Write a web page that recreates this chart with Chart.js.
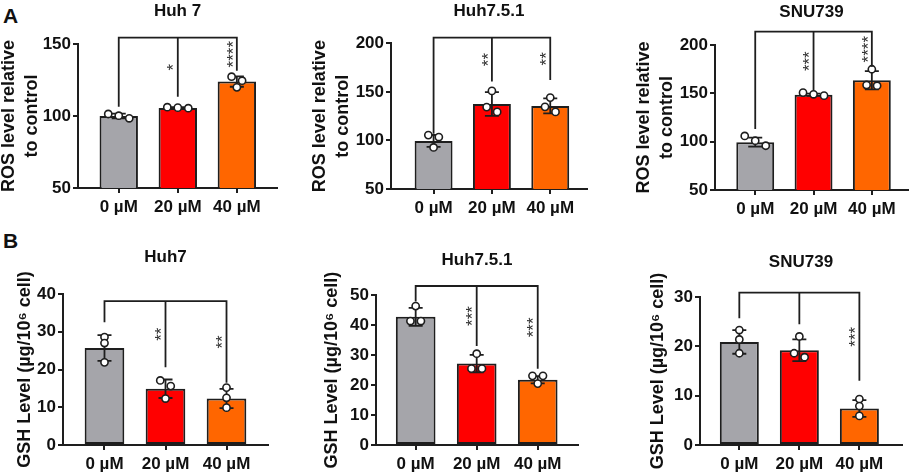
<!DOCTYPE html>
<html>
<head>
<meta charset="utf-8">
<script src="https://cdn.jsdelivr.net/npm/chart.js@4.4.1/dist/chart.umd.min.js"></script>
<style>
body{margin:0;width:913px;height:476px;position:relative;overflow:hidden;background:#fff}
canvas{position:absolute}
.lbl{position:absolute;font:bold 21px "Liberation Sans",Arial,sans-serif;line-height:21px;color:#111}
</style>
</head>
<body>
<div class="lbl" style="left:3px;top:5px">A</div>
<div class="lbl" style="left:3px;top:230px">B</div>
<canvas id="c0"></canvas><canvas id="c1"></canvas><canvas id="c2"></canvas>
<canvas id="c3"></canvas><canvas id="c4"></canvas><canvas id="c5"></canvas>
<script>
const doses = ["0 µM", "20 µM", "40 µM"]
const barColors = ["#a5a5aa", "#ff0000", "#ff6600"]
const rosTitle = ["ROS level relative", "to control"]
const gshTitle = "GSH Level (µg/10⁶ cell)"

// A - ROS
const rosHuh7 = [100, 105.6, 123.9]
const rosHuh7Sd = [1.7, 0.5, 3.6]
const rosHuh7Pts = [[98.4, 101.4, 100.2], [105.8, 106.1, 105.4], [127.3, 124.5, 119.9]]
const rosHuh7Ticks = [50, 100, 150]
const rosHuh7Bracket = 154.4
const rosHuh7Drop = [106.5, 113.4, 131.5]
const rosHuh7Stars = ["", "*", "****"]

const rosHuh751 = [99.5, 137.5, 135.5]
const rosHuh751Sd = [6.1, 12.2, 7.7]
const rosHuh751Pts = [[105.5, 103.5, 92.8], [151, 134.3, 129.4], [144.1, 134.6, 129.4]]
const rosHuh751Ticks = [50, 100, 150, 200]
const rosHuh751Bracket = 205.8
const rosHuh751Drop = [107, 160.6, 162.3]
const rosHuh751Stars = ["", "**", "**"]

const rosSnu = [99.5, 148.5, 163.5]
const rosSnuSd = [4.7, 1.2, 9.4]
const rosSnuPts = [[105.9, 101, 95.8], [147.6, 150.7, 149], [174.9, 157.9, 158.6]]
const rosSnuTicks = [50, 100, 150, 200]
const rosSnuBracket = 213.8
const rosSnuDrop = [113, 152.7, 177.6]
const rosSnuStars = ["", "***", "****"]

// B - GSH
const gshHuh7 = [25.7, 14.9, 12.3]
const gshHuh7Sd = [3.4, 2.45, 2.55]
const gshHuh7Pts = [[28.6, 27.0, 21.9], [17.1, 15.6, 12.3], [15.2, 12.5, 9.9]]
const gshHuh7Ticks = [0, 10, 20, 30, 40]
const gshHuh7Bracket = 38.1
const gshHuh7Drop = [32.5, 20.6, 16.5]
const gshHuh7Stars = ["", "**", "**"]

const gshHuh751 = [42.8, 27.2, 21.8]
const gshHuh751Sd = [3, 2.9, 1.2]
const gshHuh751Pts = [[46.4, 41.4, 41.4], [30.5, 25.5, 25.5], [23.1, 23.1, 20.5]]
const gshHuh751Ticks = [0, 10, 20, 30, 40, 50]
const gshHuh751Bracket = 53.1
const gshHuh751Drop = [47.9, 33.1, 25.5]
const gshHuh751Stars = ["", "***", "***"]

const gshSnu = [20.9, 19.2, 7.4]
const gshSnuSd = [2.4, 2.2, 1.7]
const gshSnuPts = [[23.3, 21.4, 18.6], [22, 17.8, 18.6], [9.3, 7.9, 5.9]]
const gshSnuTicks = [0, 10, 20, 30]
const gshSnuBracket = 30.9
const gshSnuDrop = [25.7, 24.5, 13]
const gshSnuStars = ["", "", "***"]

const panels = [
  {title: "Huh 7", ytitle: rosTitle, mean: rosHuh7, sd: rosHuh7Sd, pts: rosHuh7Pts, ticks: rosHuh7Ticks, bracket: rosHuh7Bracket, drop: rosHuh7Drop, stars: rosHuh7Stars},
  {title: "Huh7.5.1", ytitle: rosTitle, mean: rosHuh751, sd: rosHuh751Sd, pts: rosHuh751Pts, ticks: rosHuh751Ticks, bracket: rosHuh751Bracket, drop: rosHuh751Drop, stars: rosHuh751Stars},
  {title: "SNU739", ytitle: rosTitle, mean: rosSnu, sd: rosSnuSd, pts: rosSnuPts, ticks: rosSnuTicks, bracket: rosSnuBracket, drop: rosSnuDrop, stars: rosSnuStars},
  {title: "Huh7", ytitle: gshTitle, mean: gshHuh7, sd: gshHuh7Sd, pts: gshHuh7Pts, ticks: gshHuh7Ticks, bracket: gshHuh7Bracket, drop: gshHuh7Drop, stars: gshHuh7Stars},
  {title: "Huh7.5.1", ytitle: gshTitle, mean: gshHuh751, sd: gshHuh751Sd, pts: gshHuh751Pts, ticks: gshHuh751Ticks, bracket: gshHuh751Bracket, drop: gshHuh751Drop, stars: gshHuh751Stars},
  {title: "SNU739", ytitle: gshTitle, mean: gshSnu, sd: gshSnuSd, pts: gshSnuPts, ticks: gshSnuTicks, bracket: gshSnuBracket, drop: gshSnuDrop, stars: gshSnuStars}
]

// where each plot sits on the page (canvas left/top, plot area edges, title centre)
const boxes = [
  {left: -2, top: 0, L: 78, R: 277, T: 44, B: 188, ty: 11, xmin: -0.69, xmax: 2.68},
  {left: 309, top: 0, L: 391, R: 587, T: 43.3, B: 189.3, ty: 11, xmin: -0.73, xmax: 2.63},
  {left: 633, top: 0, L: 715, R: 908, T: 45, B: 190, ty: 12.5, xmin: -0.69, xmax: 2.62},
  {left: 14, top: 238, L: 63, R: 268, T: 294, B: 445, ty: 257.5, xmin: -0.68, xmax: 2.68},
  {left: 321, top: 238, L: 376, R: 578, T: 295.3, B: 445.3, ty: 260, xmin: -0.65, xmax: 2.66},
  {left: 647, top: 238, L: 700, R: 902, T: 297, B: 445, ty: 262, xmin: -0.655, xmax: 2.71}
]

const FONT = '"Liberation Sans", Arial, sans-serif'
const INK = "#1e1e1e"
Chart.defaults.font.family = FONT
Chart.defaults.color = "#111"

function extras(p){
  return {id: "extras", afterDatasetsDraw(chart){
    const ctx = chart.ctx, x = chart.scales.x, y = chart.scales.y
    ctx.save()
    ctx.strokeStyle = INK
    ctx.lineWidth = 1.8
    // error bars
    p.mean.forEach((m, i) => {
      const cx = x.getPixelForValue(i), t = y.getPixelForValue(m + p.sd[i]), b = y.getPixelForValue(m - p.sd[i])
      ctx.beginPath()
      ctx.moveTo(cx, t); ctx.lineTo(cx, b)
      ctx.moveTo(cx - 7, t); ctx.lineTo(cx + 7, t)
      ctx.moveTo(cx - 7, b); ctx.lineTo(cx + 7, b)
      ctx.stroke()
    })
    // replicate points, spread sideways when they overlap
    p.pts.forEach((g, i) => {
      const cx = x.getPixelForValue(i)
      const ys = g.map(v => y.getPixelForValue(v))
      const order = ys.map((v, k) => k).sort((a, b) => ys[a] - ys[b])
      const groups = [[order[0]]]
      for (let k = 1; k < order.length; k++) {
        if (ys[order[k]] - ys[order[k - 1]] < 6) groups[groups.length - 1].push(order[k])
        else groups.push([order[k]])
      }
      groups.forEach(gr => gr.forEach((k, j) => {
        const px = cx + (j - (gr.length - 1) / 2) * 10.5
        ctx.beginPath()
        ctx.arc(px, ys[k], 3.6, 0, Math.PI * 2)
        ctx.fillStyle = "#fff"
        ctx.fill()
        ctx.lineWidth = 1.6
        ctx.stroke()
      }))
    })
    // comparison bracket
    const by = y.getPixelForValue(p.bracket)
    const xs = [0, 1, 2].map(i => x.getPixelForValue(i))
    const ds = p.drop.map(d => y.getPixelForValue(d))
    ctx.lineWidth = 1.8
    ctx.beginPath()
    ctx.moveTo(xs[0], ds[0]); ctx.lineTo(xs[0], by); ctx.lineTo(xs[2], by); ctx.lineTo(xs[2], ds[2])
    ctx.moveTo(xs[1], by); ctx.lineTo(xs[1], ds[1])
    ctx.stroke()
    // stars
    ctx.fillStyle = "#333"
    ctx.font = "17px " + FONT
    ctx.textAlign = "center"
    ctx.textBaseline = "middle"
    p.stars.forEach((s, i) => {
      if (!s) return
      ctx.save()
      ctx.translate(xs[i] - 3, (by + ds[i]) / 2)
      ctx.rotate(-Math.PI / 2)
      ctx.fillText(s, 0, 0)
      ctx.restore()
    })
    ctx.restore()
  }}
}

panels.forEach((p, n) => {
  const bx = boxes[n]
  const cv = document.getElementById("c" + n)
  const w = Math.round(bx.R + 6 - bx.left), h = Math.round(bx.B + 30 - bx.top)
  cv.width = w; cv.height = h
  cv.style.left = bx.left + "px"; cv.style.top = bx.top + "px"
  const lh = 17 * 1.2
  const tk = p.ticks
  const axisLine = {display: true, color: INK, width: 2}
  const tickMarks = {drawOnChartArea: false, drawTicks: true, tickLength: 5, color: INK, lineWidth: 2, offset: false}
  new Chart(cv, {
    type: "bar",
    data: {datasets: [{
      data: p.mean.map((m, i) => ({x: i, y: m})),
      backgroundColor: barColors,
      borderColor: INK,
      borderWidth: 2,
      borderSkipped: false,
      barPercentage: 0.65,
      categoryPercentage: 1
    }]},
    options: {
      responsive: false,
      animation: false,
      devicePixelRatio: 1,
      layout: {padding: {top: bx.ty - bx.top - lh / 2, left: 0, right: 6, bottom: 0}},
      plugins: {
        legend: {display: false},
        tooltip: {enabled: false},
        title: {display: true, text: p.title, fullSize: false, color: "#111",
          font: {size: 17, weight: "bold"}, padding: {top: 0, bottom: bx.T - bx.ty - lh / 2}}
      },
      scales: {
        x: {
          type: "linear", bounds: "data", offset: false, min: bx.xmin, max: bx.xmax,
          border: axisLine, grid: tickMarks,
          afterBuildTicks: s => { s.ticks = doses.map((d, i) => ({value: i})) },
          ticks: {autoSkip: false, maxRotation: 0, padding: 4,
            color: "#111", font: {size: 17, weight: "bold"}, callback: v => doses[v] ?? ""},
          afterFit: s => { s.height = 30 }
        },
        y: {
          min: tk[0], max: tk[tk.length - 1],
          border: axisLine, grid: tickMarks,
          ticks: {stepSize: tk[1] - tk[0], padding: 2, color: "#111", font: {size: 17, weight: "bold"}},
          title: {display: true, text: p.ytitle, padding: 0, color: "#111",
            font: {size: 18, weight: "bold", lineHeight: 1.25}},
          afterFit: s => { s.width = bx.L - bx.left }
        }
      }
    },
    plugins: [extras(p)]
  })
})
</script>
</body>
</html>
